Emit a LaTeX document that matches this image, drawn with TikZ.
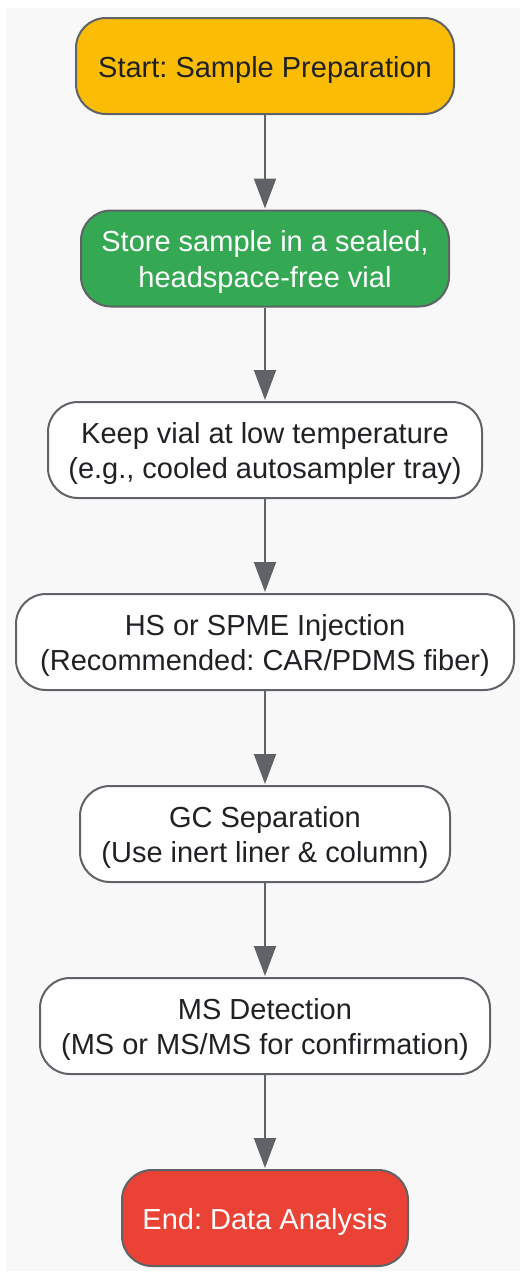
\documentclass[tikz,border=0pt]{standalone}
\usepackage{fontspec}
\setmainfont{Liberation Sans}
\usetikzlibrary{arrows.meta}
\frenchspacing
\definecolor{bg}{HTML}{F8F8F8}
\definecolor{edge}{HTML}{5F6368}
\definecolor{txt}{HTML}{202124}
\definecolor{cyellow}{HTML}{FBBC05}
\definecolor{cgreen}{HTML}{34A853}
\definecolor{cred}{HTML}{EA4335}
\newcommand{\boxlines}[1]{\raisebox{-4pt}[\height][\depth]{\begin{tabular}{@{}c@{}}#1\end{tabular}}}
\tikzset{
  box/.style={draw=edge, line width=2pt, rounded corners=30pt, minimum height=96pt,
    inner sep=0pt, text=txt, fill=white,
    font=\fontsize{29pt}{35.5pt}\selectfont\frenchspacing},
  flow/.style={draw=edge, line width=2pt, -{Triangle[length=30pt,width=22pt]}, shorten >=1pt}
}
\begin{document}
\begin{tikzpicture}[x=1pt,y=1pt]
\useasboundingbox (0,0) rectangle (520,-1272);
\fill[bg] (6,-8) rectangle (520,-1271);
\node[box, fill=cyellow, minimum width=378pt] (n1) at (265,-66) {\boxlines{Start: Sample Preparation}};
\node[box, fill=cgreen, text=white, minimum width=368pt] (n2) at (265,-258.5) {\boxlines{Store sample in a sealed,\\headspace-free vial}};
\node[box, minimum width=434pt] (n3) at (265,-450) {\boxlines{Keep vial at low temperature\\(e.g., cooled autosampler tray)}};
\node[box, minimum width=498pt] (n4) at (265,-642) {\boxlines{HS or SPME Injection\\(Recommended: CAR/PDMS fiber)}};
\node[box, minimum width=370pt] (n5) at (265,-834) {\boxlines{GC Separation\\(Use inert liner \& column)}};
\node[box, minimum width=450pt] (n6) at (265,-1026) {\boxlines{MS Detection\\(MS or MS/MS for confirmation)}};
\node[box, fill=cred, text=white, minimum width=286pt] (n7) at (265,-1218) {\boxlines{End: Data Analysis}};
\draw[flow] (n1) -- (n2);
\draw[flow] (n2) -- (n3);
\draw[flow] (n3) -- (n4);
\draw[flow] (n4) -- (n5);
\draw[flow] (n5) -- (n6);
\draw[flow] (n6) -- (n7);
\end{tikzpicture}
\end{document}
